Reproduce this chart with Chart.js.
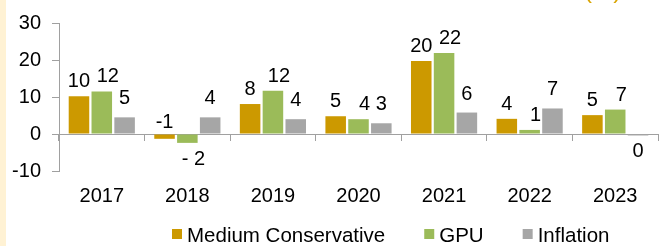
<!DOCTYPE html>
<html>
<head>
<meta charset="utf-8">
<script src="https://cdn.jsdelivr.net/npm/chart.js@4.4.0/dist/chart.umd.min.js"></script>
<style>
body { margin: 0; background: #fff; }
#wrap { position: relative; width: 665px; height: 246px; }
#strip { position: absolute; left: 0; top: 0; width: 6px; height: 246px; background: #fff2d4; }
#myChart { position: absolute; left: 0; top: 0; }
</style>
</head>
<body>
<div id="wrap">
  <div id="strip"></div>
  <canvas id="myChart" width="665" height="246"></canvas>
</div>
<script>
// du lieu doc tu hinh
var years = ['2017', '2018', '2019', '2020', '2021', '2022', '2023'];
var mediumConservative = [10.2, -1.3, 8.1, 4.8, 19.7, 4.1, 5.1];
var gpu = [11.5, -2.4, 11.7, 4.0, 21.9, 1.1, 6.6];
var inflation = [4.5, 4.5, 4.0, 2.9, 5.8, 6.9, -0.4];
var labelsMC = ['10', '-1', '8', '5', '20', '4', '5'];
var labelsGPU = ['12', '- 2', '12', '4', '22', '1', '7'];
var labelsInf = ['5', '4', '4', '3', '6', '7', '0'];
var yTicks = [-10, 0, 10, 20, 30];

var FAMILY = '"Liberation Sans", Arial, sans-serif';
var FONT = '20px ' + FAMILY;
var AXIS = '#a0a0a0';

// ve nhan so tren moi cot
var barLabels = {
    id: 'barLabels',
    afterDatasetsDraw: function(chart) {
        var ctx = chart.ctx;
        var zero = chart.scales.y.getPixelForValue(0);
        ctx.save();
        ctx.font = FONT;
        ctx.fillStyle = '#000';
        ctx.textAlign = 'center';
        ctx.textBaseline = 'alphabetic';
        chart.data.datasets.forEach(function(ds, i) {
            var meta = chart.getDatasetMeta(i);
            meta.data.forEach(function(bar, j) {
                var v = ds.data[j];
                var txt = ds.valueLabels[j];
                var x = bar.x + ds.labelShift;
                if (v >= 0) {
                    ctx.fillText(txt, x, bar.y - ds.labelGap);
                } else if (v > -1.5 && txt.charAt(0) == '-') {
                    ctx.fillText(txt, x, zero - 6);
                } else {
                    ctx.fillText(txt, x, bar.y + 22);
                }
            });
        });
        ctx.restore();
    }
};

// chu thich ben duoi
var bottomLegend = {
    id: 'bottomLegend',
    afterDraw: function(chart) {
        var ctx = chart.ctx;
        ctx.save();
        ctx.font = '20.5px ' + FAMILY;
        ctx.textBaseline = 'alphabetic';
        ctx.textAlign = 'left';
        var x = 172;
        chart.data.datasets.forEach(function(ds) {
            ctx.fillStyle = ds.backgroundColor;
            ctx.fillRect(x, 229, 10, 10);
            ctx.fillStyle = '#000';
            ctx.fillText(ds.label, x + 15, 241.5);
            x += 15 + ctx.measureText(ds.label).width + 39;
        });
        // phan chu bi cat o goc tren
        ctx.fillStyle = '#d9a400';
        ctx.font = '24px ' + FAMILY;
        ctx.fillText('(%)', 584, -2.5);
        ctx.restore();
    }
};

var chart = new Chart('myChart', {
    type: 'bar',
    data: {
        labels: years,
        datasets: [{
            label: 'Medium Conservative',
            data: mediumConservative,
            valueLabels: labelsMC,
            backgroundColor: '#cc9900',
            labelShift: 0,
            labelGap: 9
        }, {
            label: 'GPU',
            data: gpu,
            valueLabels: labelsGPU,
            backgroundColor: '#9bbb59',
            labelShift: 6,
            labelGap: 9
        }, {
            label: 'Inflation',
            data: inflation,
            valueLabels: labelsInf,
            backgroundColor: '#a6a6a6',
            labelShift: 0,
            labelGap: 13
        }]
    },
    options: {
        responsive: false,
        animation: false,
        categoryPercentage: 0.8,
        barPercentage: 0.9,
        layout: { padding: { left: 0, right: 7, top: 18, bottom: 35 } },
        plugins: {
            legend: { display: false },
            tooltip: { enabled: false }
        },
        scales: {
            x: {
                grid: { display: false, drawTicks: false },
                border: { display: false },
                ticks: { color: '#000', font: { family: FAMILY, size: 20 }, padding: 13 },
                afterFit: function(scale) { scale.height = 40; }
            },
            xz: {
                type: 'category',
                position: { y: 0 },
                offset: true,
                grid: { offset: true, drawOnChartArea: false, drawTicks: true, tickLength: 6, color: AXIS },
                border: { display: true, color: AXIS, width: 1 },
                ticks: { display: false }
            },
            y: {
                min: yTicks[0],
                max: yTicks[yTicks.length - 1],
                ticks: {
                    stepSize: yTicks[1] - yTicks[0],
                    color: '#000',
                    padding: 11,
                    font: { family: FAMILY, size: 20 }
                },
                grid: { drawOnChartArea: false, drawTicks: true, tickLength: 7, color: AXIS },
                border: { display: true, color: AXIS, width: 1 },
                afterFit: function(scale) { scale.width = 59; }
            }
        }
    },
    plugins: [barLabels, bottomLegend]
});
</script>
</body>
</html>
